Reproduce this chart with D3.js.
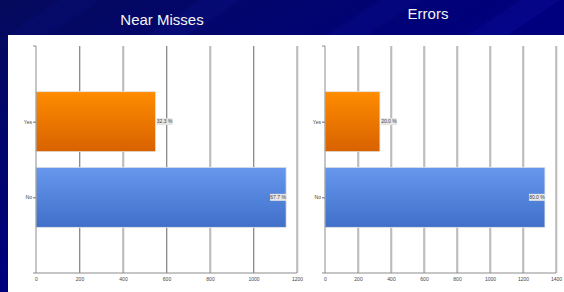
<!DOCTYPE html>
<meta charset="utf-8">
<html>
<head>
<script src="https://d3js.org/d3.v7.min.js"></script>
<style>
  body { margin: 0; overflow: hidden; }
  text { font-family: "Liberation Sans", Arial, sans-serif; }
</style>
</head>
<body>
<div id="chart"></div>
<script>
// data
var categories = ["Yes", "No"];
var nearMisses = [550, 1150];
var nearMissesPct = ["32.3 %", "67.7 %"];
var errors = [333, 1333];
var errorsPct = ["20.0 %", "80.0 %"];
var nearTicks = [0, 200, 400, 600, 800, 1000, 1200];
var errorTicks = [0, 200, 400, 600, 800, 1000, 1200, 1400];

var W = 564, H = 292;

var svg = d3.select("#chart").append("svg")
  .attr("width", W).attr("height", H);

var defs = svg.append("defs");

// background gradient
var bg = defs.append("linearGradient").attr("id", "bg")
  .attr("x1", "0%").attr("y1", "0%").attr("x2", "100%").attr("y2", "100%");
bg.append("stop").attr("offset", "0%").attr("stop-color", "#050a5c");
bg.append("stop").attr("offset", "50%").attr("stop-color", "#00007e");
bg.append("stop").attr("offset", "100%").attr("stop-color", "#000088");

var orange = defs.append("linearGradient").attr("id", "orange")
  .attr("x1", "0").attr("y1", "0").attr("x2", "0").attr("y2", "1");
orange.append("stop").attr("offset", "0%").attr("stop-color", "#ff8c00");
orange.append("stop").attr("offset", "100%").attr("stop-color", "#d86200");

var blue = defs.append("linearGradient").attr("id", "blue")
  .attr("x1", "0").attr("y1", "0").attr("x2", "0").attr("y2", "1");
blue.append("stop").attr("offset", "0%").attr("stop-color", "#6798ee");
blue.append("stop").attr("offset", "100%").attr("stop-color", "#3f6fc8");

svg.append("rect").attr("width", W).attr("height", H).attr("fill", "url(#bg)");

// diagonal streaks
[[60, 0.05], [200, 0.07], [380, 0.06], [520, 0.08]].forEach(function(s) {
  svg.append("polygon")
    .attr("points", (s[0]) + ",0 " + (s[0] + 40) + ",0 " + (s[0] - 20) + ",40 " + (s[0] - 60) + ",40")
    .attr("fill", "#3040ff").attr("opacity", s[1]);
});

// white panel
svg.append("rect").attr("x", 8).attr("y", 35).attr("width", W - 8).attr("height", H - 35)
  .attr("fill", "#ffffff");

// titles
svg.append("text").attr("x", 162).attr("y", 25).attr("text-anchor", "middle")
  .attr("fill", "#f4f4f4").style("font-size", "15px").text("Near Misses");
svg.append("text").attr("x", 428).attr("y", 19).attr("text-anchor", "middle")
  .attr("fill", "#f4f4f4").style("font-size", "15px").text("Errors");

var plotTop = 46, plotBottom = 273;

function drawChart(values, pcts, ticks, x0, x1) {
  var x = d3.scaleLinear().domain([0, d3.max(ticks)]).range([x0, x1]);
  var y = d3.scalePoint().domain(categories).range([plotTop, plotBottom]).padding(1);
  var barH = 60;
  var g = svg.append("g");

  // grid lines
  ticks.slice(1).forEach(function(t) {
    g.append("line").attr("x1", x(t) + 1).attr("x2", x(t) + 1)
      .attr("y1", plotTop).attr("y2", plotBottom).attr("stroke", "#d8d8d8").attr("stroke-width", 1);
    g.append("line").attr("x1", x(t)).attr("x2", x(t))
      .attr("y1", plotTop).attr("y2", plotBottom).attr("stroke", "#8c8c8c").attr("stroke-width", 1);
  });

  // bars
  g.selectAll("rect.bar").data(values).enter().append("rect")
    .attr("class", "bar")
    .attr("x", x(0))
    .attr("y", function(d, i) { return y(categories[i]) - barH / 2; })
    .attr("width", function(d) { return x(d) - x(0); })
    .attr("height", barH)
    .attr("fill", function(d, i) { return i === 0 ? "url(#orange)" : "url(#blue)"; })
    .attr("stroke", "#e4e4e4").attr("stroke-width", 0.8);

  // axes
  var xAxis = g.append("g").attr("transform", "translate(0," + plotBottom + ")")
    .call(d3.axisBottom(x).tickValues(ticks).tickFormat(d3.format("d")).tickSize(0).tickPadding(4));
  xAxis.select(".domain").remove();
  xAxis.selectAll("text").style("font-size", "5px").attr("fill", "#444")
    .style("font-family", "Liberation Sans, Arial, sans-serif");
  g.append("line").attr("x1", x0 - 3).attr("x2", x1).attr("y1", plotBottom).attr("y2", plotBottom)
    .attr("stroke", "#8c8c8c");

  var yAxis = g.append("g").attr("transform", "translate(" + x0 + ",0)")
    .call(d3.axisLeft(y).tickSize(3).tickPadding(1));
  yAxis.select(".domain").remove();
  yAxis.selectAll("line").attr("stroke", "#666");
  yAxis.selectAll("text").style("font-size", "5px").attr("fill", "#444")
    .style("font-family", "Liberation Sans, Arial, sans-serif");
  g.append("line").attr("x1", x0).attr("x2", x0).attr("y1", plotTop).attr("y2", plotBottom)
    .attr("stroke", "#8c8c8c");
  g.append("line").attr("x1", x0 - 3).attr("x2", x0).attr("y1", plotTop).attr("y2", plotTop)
    .attr("stroke", "#8c8c8c");

  // value labels
  values.forEach(function(v, i) {
    var bw = 16, bh = 7;
    var end = x(v);
    var lx = (end + bw + 1 < x1) ? end + 1 : end - bw;
    var cy = y(categories[i]);
    g.append("rect").attr("x", lx).attr("y", cy - bh / 2).attr("width", bw).attr("height", bh)
      .attr("fill", "#e6e6e6");
    g.append("text").attr("x", lx + bw / 2).attr("y", cy + 1.8).attr("text-anchor", "middle")
      .style("font-size", "5px").attr("fill", "#444").text(pcts[i]);
  });
}

drawChart(nearMisses, nearMissesPct, nearTicks, 36, 297);
drawChart(errors, errorsPct, errorTicks, 325, 556);
</script>
</body>
</html>
